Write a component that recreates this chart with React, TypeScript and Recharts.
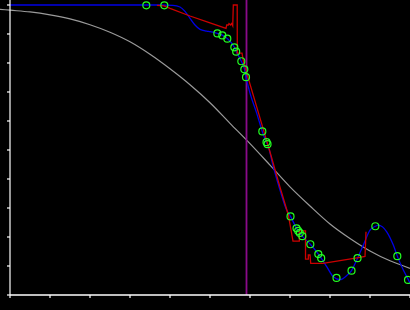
import React from 'react';
import { ComposedChart, Line, Scatter, XAxis, YAxis, ReferenceLine } from 'recharts';

// prior (grey) curve, it runs a bit left of the y axis
const priorCurve = [
  { x: -0.25, y: 0.985 }, { x: 0, y: 0.982 }, { x: 0.5, y: 0.976 }, { x: 1, y: 0.966 },
  { x: 1.5, y: 0.952 }, { x: 2, y: 0.932 }, { x: 2.5, y: 0.906 }, { x: 3, y: 0.873 },
  { x: 3.5, y: 0.83 }, { x: 4, y: 0.78 }, { x: 4.5, y: 0.725 }, { x: 5, y: 0.663 },
  { x: 5.5, y: 0.592 }, { x: 6, y: 0.522 }, { x: 6.5, y: 0.448 }, { x: 7, y: 0.373 },
  { x: 7.5, y: 0.307 }, { x: 8, y: 0.245 }, { x: 8.5, y: 0.195 }, { x: 9, y: 0.152 },
  { x: 9.5, y: 0.118 }, { x: 10, y: 0.092 },
];

// fitted mean (blue)
const meanCurve = [
  { x: 0, y: 1.0 }, { x: 3.75, y: 1.0 }, { x: 4.075, y: 0.999 }, { x: 4.25, y: 0.993 },
  { x: 4.375, y: 0.978 }, { x: 4.5, y: 0.954 }, { x: 4.625, y: 0.931 }, { x: 4.75, y: 0.916 },
  { x: 4.917, y: 0.91 }, { x: 5.0, y: 0.908 }, { x: 5.183, y: 0.902 }, { x: 5.308, y: 0.896 },
  { x: 5.433, y: 0.884 }, { x: 5.608, y: 0.854 }, { x: 5.658, y: 0.839 }, { x: 5.783, y: 0.806 },
  { x: 5.863, y: 0.778 }, { x: 5.9, y: 0.751 }, { x: 6.0, y: 0.696 }, { x: 6.167, y: 0.627 },
  { x: 6.308, y: 0.564 }, { x: 6.408, y: 0.527 }, { x: 6.438, y: 0.52 }, { x: 6.583, y: 0.442 },
  { x: 6.75, y: 0.362 }, { x: 6.917, y: 0.293 }, { x: 7.013, y: 0.271 }, { x: 7.163, y: 0.23 },
  { x: 7.205, y: 0.221 }, { x: 7.25, y: 0.214 }, { x: 7.308, y: 0.203 }, { x: 7.508, y: 0.175 },
  { x: 7.708, y: 0.141 }, { x: 7.78, y: 0.127 }, { x: 7.918, y: 0.098 }, { x: 8.083, y: 0.063 },
  { x: 8.25, y: 0.053 }, { x: 8.418, y: 0.067 }, { x: 8.538, y: 0.084 }, { x: 8.688, y: 0.127 },
  { x: 8.833, y: 0.172 }, { x: 9.0, y: 0.224 }, { x: 9.133, y: 0.237 }, { x: 9.208, y: 0.241 },
  { x: 9.418, y: 0.218 }, { x: 9.583, y: 0.172 }, { x: 9.683, y: 0.134 }, { x: 9.833, y: 0.086 },
  { x: 9.958, y: 0.053 }, { x: 10, y: 0.041 },
];

// step estimate (red)
const stepCurve = [
  { x: 3.675, y: 0.999 }, { x: 3.85, y: 0.997 }, { x: 4.0, y: 0.988 }, { x: 4.5, y: 0.962 },
  { x: 5.0, y: 0.938 }, { x: 5.4, y: 0.919 }, { x: 5.418, y: 0.931 }, { x: 5.458, y: 0.931 },
  { x: 5.475, y: 0.936 }, { x: 5.513, y: 0.931 }, { x: 5.538, y: 0.936 }, { x: 5.568, y: 0.928 },
  { x: 5.583, y: 1.0 }, { x: 5.68, y: 1.0 }, { x: 5.683, y: 0.834 }, { x: 5.8, y: 0.834 },
  { x: 5.838, y: 0.804 }, { x: 6.0, y: 0.727 }, { x: 6.25, y: 0.61 }, { x: 6.5, y: 0.493 },
  { x: 6.75, y: 0.372 }, { x: 6.958, y: 0.276 }, { x: 7.075, y: 0.186 }, { x: 7.233, y: 0.186 },
  { x: 7.233, y: 0.221 }, { x: 7.388, y: 0.221 }, { x: 7.388, y: 0.124 }, { x: 7.458, y: 0.124 },
  { x: 7.458, y: 0.138 }, { x: 7.5, y: 0.138 }, { x: 7.518, y: 0.109 }, { x: 7.825, y: 0.109 },
  { x: 8.675, y: 0.128 }, { x: 8.875, y: 0.133 }, { x: 8.9, y: 0.218 },
];

// observations (green rings)
const samples = [
  { x: 3.408, y: 0.999 }, { x: 3.858, y: 0.999 }, { x: 5.183, y: 0.902 }, { x: 5.308, y: 0.895 },
  { x: 5.433, y: 0.884 }, { x: 5.608, y: 0.854 }, { x: 5.655, y: 0.839 }, { x: 5.783, y: 0.806 },
  { x: 5.858, y: 0.778 }, { x: 5.9, y: 0.751 }, { x: 6.308, y: 0.564 }, { x: 6.413, y: 0.527 },
  { x: 6.438, y: 0.52 }, { x: 7.013, y: 0.271 }, { x: 7.163, y: 0.23 }, { x: 7.205, y: 0.221 },
  { x: 7.245, y: 0.214 }, { x: 7.308, y: 0.203 }, { x: 7.508, y: 0.175 }, { x: 7.708, y: 0.141 },
  { x: 7.78, y: 0.127 }, { x: 8.163, y: 0.059 }, { x: 8.538, y: 0.084 }, { x: 8.688, y: 0.127 },
  { x: 9.133, y: 0.237 }, { x: 9.683, y: 0.134 }, { x: 9.95, y: 0.052 },
];

const xTicks = [0, 1, 2, 3, 4, 5, 6, 7, 8, 9, 10];
const yTicks = [0, 0.1, 0.2, 0.3, 0.4, 0.5, 0.6, 0.7, 0.8, 0.9, 1.0];
const cutoff = 5.9125;

const Y_DOMAIN: [number, number] = [0, 1.0172];

const Ring = (p: any) => (
  <circle cx={p.cx} cy={p.cy} r={3.5} fill="none" stroke="#22ff22" strokeWidth={1.2} />
);

// no tick labels, only the tick marks
const NoLabel = () => <g />;

export default function App() {
  return (
    <div style={{ position: 'absolute', left: 0, top: 0, width: 410, height: 310, background: '#000' }}>
      {/* grey curve layer, spans the whole width */}
      <div style={{ position: 'absolute', left: 0, top: 0 }}>
        <ComposedChart width={410} height={310} margin={{ top: 0, right: 0, bottom: 15, left: 0 }}>
          <XAxis type="number" dataKey="x" domain={[-0.25, 10]} hide />
          <YAxis type="number" domain={Y_DOMAIN} hide />
          <Line data={priorCurve} dataKey="y" type="monotone" stroke="#9a9a9a" strokeWidth={1.2}
            dot={false} isAnimationActive={false} />
        </ComposedChart>
      </div>
      <div style={{ position: 'absolute', left: 0, top: 0 }}>
        <ComposedChart width={410} height={310} margin={{ top: 0, right: 0, bottom: 0, left: 0 }}>
          <XAxis type="number" dataKey="x" domain={[0, 10]} ticks={xTicks} tick={NoLabel} height={15}
            tickSize={3} stroke="#fff" axisLine={{ stroke: '#fff', strokeWidth: 1.5 }}
            tickLine={{ stroke: '#fff', strokeWidth: 1.2 }} />
          <YAxis type="number" domain={Y_DOMAIN} ticks={yTicks} tick={NoLabel} width={10}
            tickSize={3} stroke="#fff" axisLine={{ stroke: '#fff', strokeWidth: 1.2 }}
            tickLine={{ stroke: '#fff', strokeWidth: 1.2 }} />
          <ReferenceLine x={cutoff} stroke="#8a0a8a" strokeWidth={1.8} />
          <Line data={meanCurve} dataKey="y" type="monotone" stroke="#0000e6" strokeWidth={1.3}
            dot={false} isAnimationActive={false} />
          <Line data={stepCurve} dataKey="y" type="linear" stroke="#cc0000" strokeWidth={1.3}
            dot={false} isAnimationActive={false} />
          <Scatter data={samples} dataKey="y" shape={Ring} isAnimationActive={false} />
        </ComposedChart>
      </div>
    </div>
  );
}
